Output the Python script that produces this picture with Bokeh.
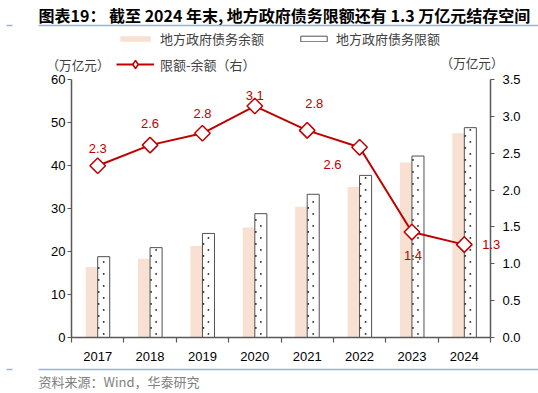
import math
import numpy as np
from bokeh.plotting import figure
from bokeh.models import (Range1d, LinearAxis, FixedTicker, Label, Legend, LegendItem,
                          BoxAnnotation, ColumnDataSource)
from bokeh.embed import file_html
from bokeh.resources import INLINE

years = ["2017", "2018", "2019", "2020", "2021", "2022", "2023", "2024"]
balance = [16.4, 18.3, 21.3, 25.6, 30.4, 35.0, 40.7, 47.5]      # 地方政府债务余额
limit = [18.8, 20.9, 24.2, 28.8, 33.3, 37.7, 42.2, 48.8]        # 地方政府债务限额
gap = [2.33, 2.61, 2.77, 3.14, 2.81, 2.58, 1.43, 1.26]           # 限额-余额（右）

RED = "#C00000"
BEIGE = "#F8E1D3"
CJK = "Noto Sans CJK SC"
LAT = "Liberation Sans"

W, H = 538, 393
AXL, AXR = 71, 490          # pixel x of left / right value axes
Y0, Y60 = 337, 79           # pixel y of value 0 and 60
n = len(years)
cw = (AXR - AXL) / n        # px per category
pu = (Y0 - Y60) / 60.0      # px per left unit
pr = (Y0 - Y60) / 3.5       # px per right unit

x_rng = Range1d(-0.5 - AXL / cw, n - 0.5 + (W - AXR) / cw)
y_rng = Range1d(-(H - Y0) / pu, 60 + Y60 / pu)
r_rng = Range1d(-(H - Y0) / pr, 3.5 + Y60 / pr)

p = figure(width=W, height=H, output_backend="svg", toolbar_location=None,
           x_range=x_rng, y_range=y_rng,
           min_border_left=0, min_border_right=0, min_border_top=0, min_border_bottom=0)
p.outline_line_color = None
p.grid.visible = False
p.background_fill_color = None
p.border_fill_color = "white"
p.xaxis.visible = False
p.yaxis.visible = False
p.extra_y_ranges = {"r": r_rng}

xs = list(range(n))
bw = 0.23
src = ColumnDataSource(dict(x=xs, balance=balance, limit=limit, gap=gap))
src.data["xb"] = [x - bw / 2 for x in xs]
src.data["xl"] = [x + bw / 2 for x in xs]

r_bal = p.vbar(x="xb", top="balance", width=bw, source=src, fill_color=BEIGE, line_color=None)
r_lim = p.vbar(x="xl", top="limit", width=bw, source=src, fill_color="white",
               line_color="#505050", line_width=1)

# dot texture inside the limit bars
step = 12 / pu
dxs, dys = [], []
for x, top in zip(src.data["xl"], limit):
    for yy in np.arange(step * 0.3, top - 0.5, step):
        dxs.append(x); dys.append(yy)
    for yy in np.arange(step * 0.8, top - 0.5, step):
        dxs.append(x - bw / 2 + 0.02); dys.append(yy)
p.scatter(dxs, dys, marker="circle", size=1.8, fill_color="#222222", line_color=None)

r_line = p.line(x="x", y="gap", source=src, y_range_name="r", line_color=RED, line_width=2)
r_mk = p.scatter(x="x", y="gap", source=src, y_range_name="r", marker="square", angle=math.pi / 4,
                 size=11, fill_color="white", line_color=RED, line_width=1.5)
# legend-only marker (diamond shape, zero size on the plot)
r_mk_leg = p.scatter(x="x", y="gap", source=src, y_range_name="r", marker="diamond", size=0,
                     fill_color="white", line_color=RED, line_width=1.5)

# value labels (offsets in px)
lab_dx = [0, 0, 0, 0, 7, -27, 1, 27]
lab_dy = [17, 22, 20, 11, 27, -17, -23, 0]
for x, g, ox, oy in zip(xs, gap, lab_dx, lab_dy):
    p.add_layout(Label(x=x, y=g, y_range_name="r", x_offset=ox, y_offset=oy, text="%.1f" % g,
                       text_align="center", text_baseline="middle", text_color=RED,
                       text_font=LAT, text_font_size="13px"))

AX = "#595959"
xa = LinearAxis(ticker=FixedTicker(ticks=xs, minor_ticks=[x - 0.5 for x in xs] + [n - 0.5]),
                major_label_overrides={x: y for x, y in zip(xs, years)},
                fixed_location=0, bounds=(-0.5, n - 0.5))
xa.major_tick_out = 0
xa.major_tick_in = 0
xa.minor_tick_out = 5
xa.minor_tick_in = 0
xa.minor_tick_line_color = AX
xa.minor_tick_line_width = 1.2
xa.axis_line_color = AX
xa.axis_line_width = 1.5
xa.major_label_text_font = LAT
xa.major_label_text_font_size = "13px"
xa.major_label_text_color = "black"
xa.major_label_standoff = 9
p.add_layout(xa, "below")

rt = [0, 0.5, 1, 1.5, 2, 2.5, 3, 3.5]
ya = LinearAxis(ticker=FixedTicker(ticks=[0, 10, 20, 30, 40, 50, 60]), bounds=(0, 60),
                fixed_location=-0.5)
yr = LinearAxis(y_range_name="r", ticker=FixedTicker(ticks=rt), bounds=(0, 3.5),
                fixed_location=n - 0.5, major_label_overrides={t: "%.1f" % t for t in rt})
for ax, so in ((ya, 2), (yr, 8)):
    ax.major_tick_out = 4
    ax.major_tick_in = 0
    ax.minor_tick_line_color = None
    ax.axis_line_color = AX
    ax.axis_line_width = 1.5
    ax.major_tick_line_color = AX
    ax.major_tick_line_width = 1.2
    ax.major_label_text_font = LAT
    ax.major_label_text_font_size = "13px"
    ax.major_label_text_color = "black"
    ax.major_label_standoff = so
p.add_layout(ya, "left")
p.add_layout(yr, "right")

# legends (location in px from the canvas bottom-left)
def mk_legend(items, x, ybottom, gw, gh):
    lg = Legend(items=items, location=(x, H - ybottom), orientation="horizontal",
                glyph_width=gw, glyph_height=gh,
                label_text_font=CJK, label_text_font_size="13px", label_text_color="#404040",
                label_height=16, border_line_color=None, background_fill_alpha=0, padding=0,
                margin=0, label_standoff=6, spacing=0)
    p.add_layout(lg, "center")

mk_legend([LegendItem(label="地方政府债务余额", renderers=[r_bal])], 116, 48, 38, 7)
mk_legend([LegendItem(label="地方政府债务限额", renderers=[r_lim])], 297, 48, 33, 7)
mk_legend([LegendItem(label="限额-余额（右）", renderers=[r_line, r_mk_leg])], 116, 74, 38, 20)

# texts (canvas px, y from top)
def txt(s, x, y, font=CJK, size="13px", color="#404040", style="normal", align="left"):
    p.add_layout(Label(x=x, y=H - y, x_units="screen", y_units="screen", text=s,
                       text_font=font, text_font_size=size, text_color=color,
                       text_font_style=style, text_align=align, text_baseline="middle"))

txt("图表19：  截至 2024 年末, 地方政府债务限额还有 1.3 万亿元结存空间", 38, 14, size="16px",
    color="black", style="bold")
txt("（万亿元）", 46, 64, size="12.6px")
txt("（万亿元）", 503, 62, size="12.6px", align="right")
txt("资料来源：Wind，华泰研究", 38, 381, size="13px", color="#808080")

def hline(x0, x1, y, c="#9FB3CC"):
    p.add_layout(BoxAnnotation(left=x0, right=x1, top=H - y + 0.8, bottom=H - y - 0.8,
                               left_units="screen", right_units="screen", top_units="screen",
                               bottom_units="screen", fill_color=c, fill_alpha=1, line_color=None))

hline(38, 538, 25)
hline(6, 12, 25)
hline(38, 538, 369)
hline(6, 12, 369)

open("out.html", "w").write(file_html(p, INLINE))
